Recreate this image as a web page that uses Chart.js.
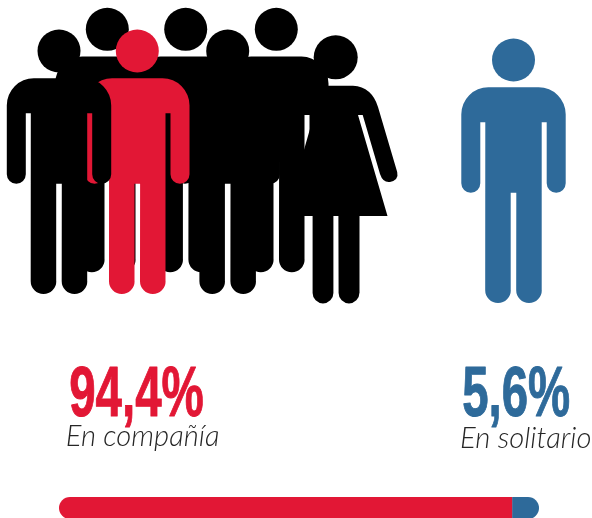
<!DOCTYPE html>
<html><head><meta charset="utf-8">
<style>html,body{margin:0;padding:0;background:#fff;overflow:hidden;width:592px;height:518px}
#w{position:relative;width:592px;height:518px;overflow:hidden}canvas{display:block}</style>
<script src="https://cdn.jsdelivr.net/npm/chart.js@4"></script></head>
<body><div id="w"><canvas id="c" width="592" height="540"></canvas></div>
<script>
const categories = ["Convivencia"];
const seriesLabels = ["En compañía", "En solitario"];
const companyValues = [94.4];
const aloneValues = [5.6];
const valueLabels = ["94,4%", "5,6%"];
const RED = "#e21735", BLUE = "#2e6a9a", BLACK = "#000000", GREY = "#262626";

function man(ctx, cx, hy, color) {
  const t = hy + 27.3, b = hy + 243, arm = hy + 132.7, pit = hy + 62.3;
  ctx.fillStyle = color;
  ctx.beginPath(); ctx.arc(cx, hy, 21.5, 0, Math.PI * 2); ctx.fill();
  ctx.beginPath();
  ctx.moveTo(cx - 25, t);
  ctx.lineTo(cx + 25, t);
  ctx.arcTo(cx + 52.2, t, cx + 52.2, t + 27, 27);
  ctx.lineTo(cx + 52.2, arm - 9.5);
  ctx.arc(cx + 42.7, arm - 9.5, 9.5, 0, Math.PI);
  ctx.lineTo(cx + 33.2, pit);
  ctx.lineTo(cx + 28.2, pit);
  ctx.lineTo(cx + 28.2, b - 12.8);
  ctx.arc(cx + 15.5, b - 12.8, 12.8, 0, Math.PI);
  ctx.lineTo(cx + 2.8, arm);
  ctx.lineTo(cx - 2.8, arm);
  ctx.lineTo(cx - 2.8, b - 12.8);
  ctx.arc(cx - 15.5, b - 12.8, 12.8, 0, Math.PI);
  ctx.lineTo(cx - 28.2, pit);
  ctx.lineTo(cx - 33.2, pit);
  ctx.lineTo(cx - 33.2, arm - 9.5);
  ctx.arc(cx - 42.7, arm - 9.5, 9.5, 0, Math.PI);
  ctx.lineTo(cx - 52.2, t + 27);
  ctx.arcTo(cx - 52.2, t, cx - 25, t, 27);
  ctx.closePath(); ctx.fill();
}
function woman(ctx, color) {
  ctx.fillStyle = color;
  ctx.beginPath(); ctx.arc(335.7, 57.3, 22, 0, Math.PI * 2); ctx.fill();
  ctx.beginPath();
  ctx.moveTo(304, 85.7);
  ctx.lineTo(353, 85.7);
  ctx.quadraticCurveTo(372, 87, 378, 107);
  ctx.lineTo(397.2, 172);
  ctx.quadraticCurveTo(399, 180, 390, 182);
  ctx.quadraticCurveTo(383, 183, 380, 174);
  ctx.lineTo(362.7, 115);
  ctx.lineTo(358, 115);
  ctx.lineTo(387.5, 216);
  ctx.lineTo(359.5, 216);
  ctx.lineTo(359.5, 293);
  ctx.arc(349, 293, 10.4, 0, Math.PI);
  ctx.lineTo(338.4, 216);
  ctx.lineTo(333.4, 216);
  ctx.lineTo(333.4, 293);
  ctx.arc(323, 293, 10.4, 0, Math.PI);
  ctx.lineTo(312.6, 216);
  ctx.lineTo(285, 216);
  ctx.lineTo(314, 115);
  ctx.lineTo(304, 115);
  ctx.closePath(); ctx.fill();
}
// Draws text squeezed horizontally so that its ink spans [x0, x1].
function fitted(ctx, text, x0, x1, y, font, color, weight) {
  ctx.save();
  ctx.font = font;
  const m = ctx.measureText(text);
  const ink = m.actualBoundingBoxRight + m.actualBoundingBoxLeft;
  const sx = (x1 - x0) / ink;
  ctx.translate(x0 + m.actualBoundingBoxLeft * sx, y);
  ctx.scale(sx, 1);
  ctx.fillStyle = color; ctx.strokeStyle = color; ctx.lineJoin = "round";
  ctx.textBaseline = "alphabetic"; ctx.textAlign = "left";
  ctx.fillText(text, 0, 0);
  if (weight) { ctx.lineWidth = weight; ctx.strokeText(text, 0, 0); }
  ctx.restore();
}
const figures = {
  id: "figures",
  beforeDraw(chart) {
    const ctx = chart.ctx;
    ctx.save();
    man(ctx, 107.3, 29.3, BLACK); man(ctx, 185.7, 29.3, BLACK); man(ctx, 276.3, 29.3, BLACK);
    woman(ctx, BLACK);
    man(ctx, 227.7, 51, BLACK);
    man(ctx, 137.3, 51, RED);
    man(ctx, 59, 51, BLACK);
    man(ctx, 513.5, 60, BLUE);
    const big = 'bold 71px "Liberation Sans"';
    fitted(ctx, valueLabels[0], 70.5, 203, 416, big, RED, 1);
    fitted(ctx, valueLabels[1], 463.5, 569.3, 416, big, BLUE, 1);
    const small = 'italic 300 29px Lato';
    fitted(ctx, seriesLabels[0], 66.7, 218, 445.7, small, GREY, 0);
    fitted(ctx, seriesLabels[1], 461, 590.6, 447.5, small, GREY, 0);
    ctx.restore();
  }
};
new Chart(document.getElementById("c"), {
  type: "bar",
  plugins: [figures],
  data: { labels: categories, datasets: [
    { label: seriesLabels[0], data: companyValues, backgroundColor: RED, barThickness: 22, inflateAmount: 0, borderSkipped: false,
      borderRadius: { topLeft: 11, bottomLeft: 11, topRight: 0, bottomRight: 0 } },
    { label: seriesLabels[1], data: aloneValues, backgroundColor: BLUE, barThickness: 22, inflateAmount: 0, borderSkipped: false,
      borderRadius: { topLeft: 0, bottomLeft: 0, topRight: 11, bottomRight: 11 } }
  ]},
  options: {
    indexAxis: "y", responsive: false, animation: false,
    layout: { padding: { left: 59, right: 53, top: 476, bottom: 0 } },
    plugins: { legend: { display: false }, tooltip: { enabled: false } },
    scales: {
      x: { stacked: true, min: 0, max: 100, display: false },
      y: { stacked: true, display: false }
    }
  }
});
</script></body></html>
